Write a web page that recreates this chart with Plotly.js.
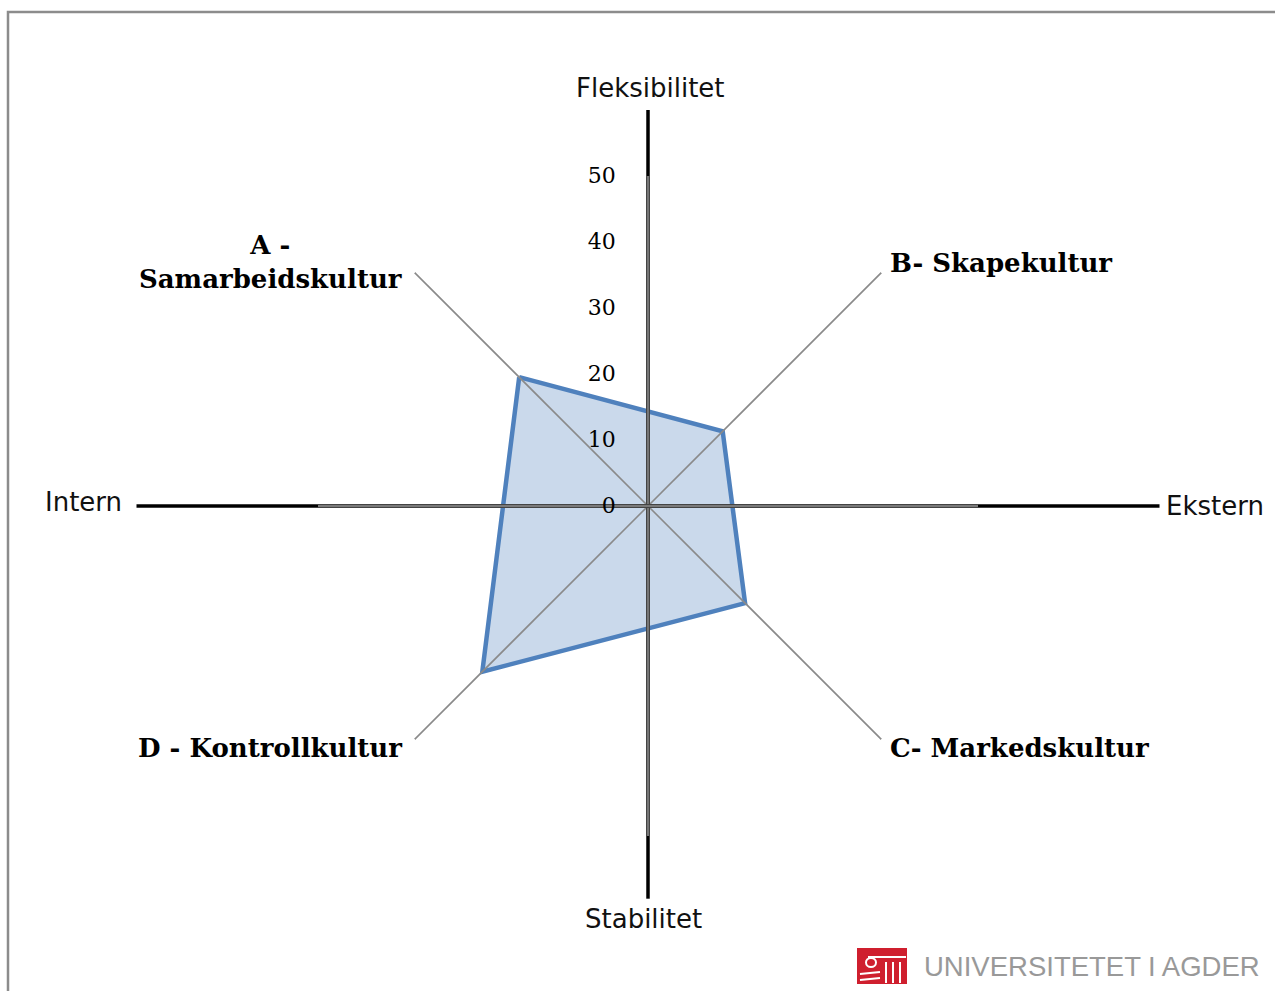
<!DOCTYPE html>
<html>
<head>
<meta charset="utf-8">
<script src="https://cdn.plot.ly/plotly-3.0.1.min.js"></script>
<style>html,body{margin:0;padding:0;background:#fff;}#chart{width:1275px;height:991px;}</style>
</head>
<body>
<div id="chart"></div>
<script>
// ---- data ----
const cultureLabels = ['A - Samarbeidskultur', 'B- Skapekultur', 'C- Markedskultur', 'D - Kontrollkultur'];
const cultureScores = [27.6, 16.0, 20.8, 35.5];
const dimensionLabels = ['Fleksibilitet', 'Ekstern', 'Stabilitet', 'Intern'];
const radialTickValues = [0, 10, 20, 30, 40, 50];
const logoText = 'UNIVERSITETET I AGDER';

// ---- geometry helpers (layout only) ----
const W = 1275, H = 991;
const px = x => x / W;
const py = y => 1 - y / H;
const rMax = 50;
const CX = 648, CY = 506, R = 330;       // polar centre and radius in pixels
const pxPerUnit = R / rMax;

// angular order, clockwise from the top
const angularOrder = [
  dimensionLabels[0], cultureLabels[1], dimensionLabels[1], cultureLabels[2],
  dimensionLabels[2], cultureLabels[3], dimensionLabels[3], cultureLabels[0]
];

const traces = [];

// culture profile polygon
traces.push({
  type: 'scatterpolar', mode: 'lines',
  r: cultureScores.concat([cultureScores[0]]),
  theta: cultureLabels.concat([cultureLabels[0]]),
  fill: 'toself', fillcolor: 'rgba(79,129,189,0.30)',
  line: {color: '#4f81bd', width: 4.5},
  hoverinfo: 'r+theta', showlegend: false
});

// diagonal spokes (culture directions)
[[0, 2], [1, 3]].forEach(([i, j]) => {
  traces.push({
    type: 'scatterpolar', mode: 'lines',
    r: [rMax, rMax], theta: [cultureLabels[i], cultureLabels[j]],
    line: {color: '#8a8a8a', width: 1.6},
    hoverinfo: 'skip', showlegend: false
  });
});

// main cross (dimension axes) inside the scale
[[0, 2], [3, 1]].forEach(([i, j]) => {
  traces.push({
    type: 'scatterpolar', mode: 'lines',
    r: [rMax, rMax], theta: [dimensionLabels[i], dimensionLabels[j]],
    line: {color: '#444444', width: 4},
    hoverinfo: 'skip', showlegend: false
  });
  traces.push({
    type: 'scatterpolar', mode: 'lines',
    r: [rMax, rMax], theta: [dimensionLabels[i], dimensionLabels[j]],
    line: {color: '#8c8c8c', width: 1.4},
    hoverinfo: 'skip', showlegend: false
  });
});

// ---- black extensions of the cross beyond the scale (decoration shapes) ----
// extension end in radial units for: Fleksibilitet (up), Ekstern (right), Stabilitet (down), Intern (left)
const extensionEnds = [60, 77.5, 59.5, 77.5];
const dirs = [[0, -1], [1, 0], [0, 1], [-1, 0]];
const shapes = [];
dirs.forEach(([dx, dy], k) => {
  const r0 = R, r1 = extensionEnds[k] * pxPerUnit;
  shapes.push({
    type: 'line', xref: 'paper', yref: 'paper',
    x0: px(CX + dx * r0), y0: py(CY + dy * r0),
    x1: px(CX + dx * r1), y1: py(CY + dy * r1),
    line: {color: '#000000', width: 3.5}
  });
});

// frame + logo emblem
shapes.push(
  {type: 'rect', xref: 'paper', yref: 'paper', x0: px(8), y0: py(12), x1: px(1300), y1: py(1020),
   line: {color: '#8c8c8c', width: 2.5}, fillcolor: 'rgba(0,0,0,0)', layer: 'below'},
  {type: 'rect', xref: 'paper', yref: 'paper', x0: px(857), y0: py(984), x1: px(907), y1: py(948),
   line: {width: 0}, fillcolor: '#cf1f2e'},
  {type: 'line', xref: 'paper', yref: 'paper', x0: px(868), y0: py(957), x1: px(906), y1: py(957), line: {color: '#fff', width: 2}},
  {type: 'line', xref: 'paper', yref: 'paper', x0: px(886), y0: py(962), x1: px(886), y1: py(983), line: {color: '#fff', width: 2}},
  {type: 'line', xref: 'paper', yref: 'paper', x0: px(893), y0: py(962), x1: px(893), y1: py(983), line: {color: '#fff', width: 2}},
  {type: 'line', xref: 'paper', yref: 'paper', x0: px(900), y0: py(962), x1: px(900), y1: py(983), line: {color: '#fff', width: 2}},
  {type: 'circle', xref: 'paper', yref: 'paper', x0: px(866), y0: py(967), x1: px(876), y1: py(958), line: {color: '#fff', width: 2}},
  {type: 'line', xref: 'paper', yref: 'paper', x0: px(860), y0: py(974), x1: px(880), y1: py(972), line: {color: '#fff', width: 2}},
  {type: 'line', xref: 'paper', yref: 'paper', x0: px(860), y0: py(980), x1: px(880), y1: py(978), line: {color: '#fff', width: 2}}
);

// ---- annotations ----
const serifBold = {family: 'DejaVu Serif, Liberation Serif, serif', size: 26, color: '#000'};
const sansFont = {family: 'DejaVu Sans, Open Sans, sans-serif', size: 26, color: '#111111'};

const annotations = [
  {text: '<b>' + cultureLabels[0].replace(' - ', ' -<br>') + '</b>', x: px(404), y: py(262), xanchor: 'right', yanchor: 'middle', align: 'center', font: serifBold},
  {text: '<b>' + cultureLabels[1] + '</b>', x: px(888), y: py(263), xanchor: 'left', yanchor: 'middle', font: serifBold},
  {text: '<b>' + cultureLabels[2] + '</b>', x: px(888), y: py(748), xanchor: 'left', yanchor: 'middle', font: serifBold},
  {text: '<b>' + cultureLabels[3] + '</b>', x: px(404), y: py(748), xanchor: 'right', yanchor: 'middle', font: serifBold},
  {text: dimensionLabels[0], x: px(650), y: py(88), xanchor: 'center', yanchor: 'middle', font: sansFont},
  {text: dimensionLabels[1], x: px(1164), y: py(506), xanchor: 'left', yanchor: 'middle', font: sansFont},
  {text: dimensionLabels[2], x: px(643), y: py(919), xanchor: 'center', yanchor: 'middle', font: sansFont},
  {text: dimensionLabels[3], x: px(124), y: py(502), xanchor: 'right', yanchor: 'middle', font: sansFont},
  {text: logoText, x: px(922), y: py(966), xanchor: 'left', yanchor: 'middle',
   font: {family: 'Liberation Sans, Arial, sans-serif', size: 27.5, color: '#999999'}}
].map(a => Object.assign({xref: 'paper', yref: 'paper', showarrow: false}, a));

const layout = {
  width: W, height: H,
  margin: {l: 0, r: 0, t: 0, b: 0},
  paper_bgcolor: '#ffffff',
  showlegend: false,
  polar: {
    domain: {x: [px(CX - R), px(CX + R)], y: [py(CY + R), py(CY - R)]},
    bgcolor: 'rgba(0,0,0,0)',
    angularaxis: {
      type: 'category', categoryorder: 'array', categoryarray: angularOrder,
      rotation: 90, direction: 'clockwise',
      showgrid: false, showline: false, showticklabels: false, ticks: ''
    },
    radialaxis: {
      range: [0, rMax], angle: 90, side: 'counterclockwise',
      tickmode: 'array', tickvals: radialTickValues, ticktext: radialTickValues.map(String),
      ticks: 'outside', ticklen: 24, tickcolor: 'rgba(0,0,0,0)', tickangle: 90,
      showline: false, showgrid: false,
      tickfont: {family: 'DejaVu Serif, Liberation Serif, serif', size: 22, color: '#000'}
    }
  },
  annotations: annotations,
  shapes: shapes
};

Plotly.newPlot('chart', traces, layout, {displayModeBar: false, staticPlot: true});
</script>
</body>
</html>
